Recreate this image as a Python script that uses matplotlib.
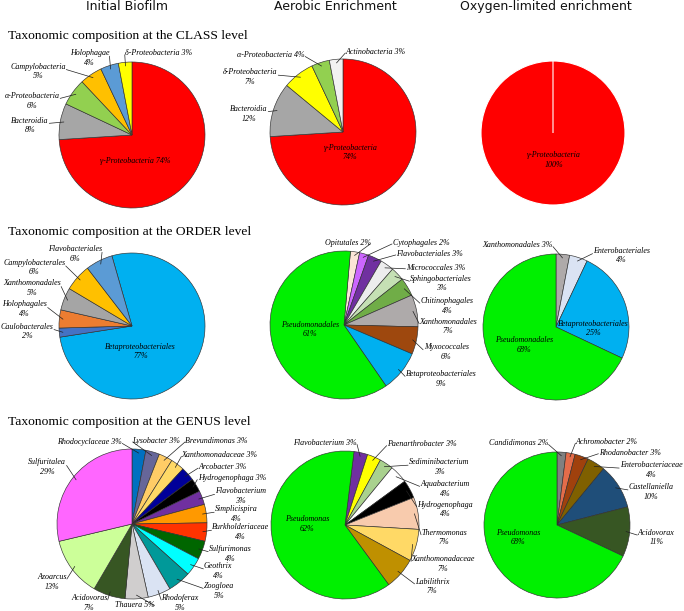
import matplotlib
matplotlib.use("Agg")
import matplotlib.pyplot as plt
import numpy as np

W, H = 684, 611
fig = plt.figure(figsize=(W / 100, H / 100), dpi=100)

SERIF = ["Liberation Serif", "DejaVu Serif"]
LABEL_FS = 5.8

# ---------------- data ----------------
column_titles = ["Initial Biofilm", "Aerobic Enrichment", "Oxygen-limited enrichment"]
row_titles = ["Taxonomic composition at the CLASS level",
              "Taxonomic composition at the ORDER level",
              "Taxonomic composition at the GENUS level"]

class_initial_names = ["γ-Proteobacteria", "Bacteroidia", "α-Proteobacteria",
                       "Campylobacteria", "Holophagae", "δ-Proteobacteria"]
class_initial_values = [74, 8, 6, 5, 4, 3]

class_aerobic_names = ["γ-Proteobacteria", "Bacteroidia", "δ-Proteobacteria",
                       "α-Proteobacteria", "Actinobacteria"]
class_aerobic_values = [74, 12, 7, 4, 3]

class_oxygen_names = ["γ-Proteobacteria", ""]
class_oxygen_values = [100, 0]

order_initial_names = ["Betaproteobacteriales", "Caulobacterales", "Holophagales",
                       "Xanthomonadales", "Campylobacterales", "Flavobacteriales"]
order_initial_values = [77, 2, 4, 5, 6, 6]

order_aerobic_names = ["Opitutales", "Cytophagales", "Flavobacteriales", "Micrococcales",
                       "Sphingobacteriales", "Chitinophagales", "Xanthomonadales",
                       "Myxococcales", "Betaproteobacteriales", "Pseudomonadales"]
order_aerobic_values = [2, 2, 3, 3, 3, 4, 7, 6, 9, 61]

order_oxygen_names = ["Xanthomonadales", "Enterobacteriales", "Betaproteobacteriales",
                      "Pseudomonadales"]
order_oxygen_values = [3, 4, 25, 68]

genus_initial_names = ["Rhodocyclaceae", "Lysobacter", "Brevundimonas", "Xanthomonadaceae",
                       "Arcobacter", "Hydrogenophaga", "Flavobacterium", "Simplicispira",
                       "Burkholderiaceae", "Sulfurimonas", "Geothrix", "Zoogloea",
                       "Rhodoferax", "Thauera", "Acidovoras", "Azoarcus", "Sulfuritalea"]
genus_initial_values = [3, 3, 3, 3, 3, 3, 3, 4, 4, 4, 4, 5, 5, 5, 7, 13, 29]

genus_aerobic_names = ["Flavobacterium", "Paenarthrobacter", "Sediminibacterium",
                       "Aquabacterium", "Hydrogenophaga", "Thermomonas",
                       "Xanthomonadaceae", "Labilithrix", "Pseudomonas"]
genus_aerobic_values = [3, 3, 3, 4, 4, 7, 7, 7, 62]

genus_oxygen_names = ["Candidimonas", "Achromobacter", "Rhodanobacter",
                      "Enterobacteriaceae", "Castellaniella", "Acidovorax", "Pseudomonas"]
genus_oxygen_values = [2, 2, 3, 4, 10, 11, 68]

# ---------------- styles ----------------
GREEN = "#00F000"
class_initial_colors = ["#FF0000", "#A6A6A6", "#92D050", "#FFC000", "#5B9BD5", "#FFFF00"]
class_aerobic_colors = ["#FF0000", "#A6A6A6", "#FFFF00", "#92D050", "#F2F2F2"]
class_oxygen_colors = ["#FF0000", "#FF0000"]
order_initial_colors = ["#00B0F0", "#4472C4", "#ED7D31", "#A5A5A5", "#FFC000", "#5B9BD5"]
order_aerobic_colors = ["#FBE5D6", "#CC66FF", "#7030A0", "#EDEDED", "#C5E0B4", "#70AD47",
                        "#AEAAAA", "#9E480E", "#00B0F0", GREEN]
order_oxygen_colors = ["#AEAAAA", "#DAE3F3", "#00B0F0", GREEN]
genus_initial_colors = ["#0070C0", "#666699", "#FFCC66", "#FFD966", "#000099", "#000000",
                        "#7030A0", "#FF9900", "#FF3300", "#006600", "#00FFFF", "#009999",
                        "#DAE3F3", "#D0CECE", "#375623", "#CCFF99", "#FF66FF"]
genus_aerobic_colors = ["#7030A0", "#FFFF00", "#A9D18E", "#FFFFFF", "#000000", "#F8CBAD",
                        "#FFD966", "#BF9000", GREEN]
genus_oxygen_colors = ["#808080", "#E46C4A", "#A0410D", "#7F6000", "#1F4E79", "#375623", GREEN]

# ---------------- layout (label offsets in pie-radius units) ----------------
# (dx, dy, two_lines, leader)
class_initial_layout = [(0.05, -0.36, False, False), (-1.40, 0.13, True, True),
                        (-1.37, 0.47, True, True), (-1.29, 0.87, True, True),
                        (-0.58, 1.06, True, True), (0.36, 1.12, False, True)]
class_aerobic_layout = [(0.10, -0.28, True, False), (-1.29, 0.25, True, True),
                        (-1.27, 0.75, True, True), (-0.99, 1.05, False, True),
                        (0.45, 1.10, False, True)]
class_oxygen_layout = [(0.01, -0.37, True, False), None]
order_initial_layout = [(0.12, -0.35, True, False), (-1.44, -0.075, True, True),
                        (-1.47, 0.23, True, True), (-1.37, 0.52, True, True),
                        (-1.34, 0.80, True, True), (-0.78, 0.99, True, True)]
order_aerobic_layout = [(0.05, 1.11, False, True), (1.04, 1.11, False, True),
                        (1.16, 0.96, False, True), (1.24, 0.77, False, True),
                        (1.31, 0.56, True, True), (1.39, 0.26, True, True),
                        (1.41, -0.02, True, True), (1.38, -0.37, True, True),
                        (1.31, -0.73, True, True), (-0.46, -0.06, True, False)]
order_oxygen_layout = [(-0.53, 1.12, False, True), (0.90, 0.98, True, True),
                       (0.51, -0.02, True, False), (-0.44, -0.25, True, False)]
genus_initial_layout = [(-0.57, 1.09, False, True), (0.32, 1.11, False, True),
                        (1.13, 1.11, False, True), (1.17, 0.92, False, True),
                        (1.21, 0.76, False, True), (1.33, 0.61, False, True),
                        (1.45, 0.37, True, True), (1.39, 0.13, True, True),
                        (1.45, -0.11, True, True), (1.31, -0.40, True, True),
                        (1.15, -0.63, True, True), (1.16, -0.89, True, True),
                        (0.64, -1.05, True, True), (0.04, -1.08, False, True),
                        (-0.57, -1.05, True, True), (-1.07, -0.77, True, True),
                        (-1.13, 0.76, True, True)]
genus_aerobic_layout = [(-0.27, 1.11, False, True), (1.04, 1.09, False, True),
                        (1.27, 0.78, True, True), (1.35, 0.49, True, True),
                        (1.35, 0.21, True, True), (1.34, -0.17, True, True),
                        (1.32, -0.53, True, True), (1.18, -0.83, True, True),
                        (-0.51, 0.01, True, False)]
genus_oxygen_layout = [(-0.53, 1.12, False, True), (0.68, 1.14, False, True),
                       (1.00, 0.99, False, True), (1.29, 0.75, True, True),
                       (1.29, 0.45, True, True), (1.36, -0.17, True, True),
                       (-0.53, -0.17, True, False)]


def draw_pie(cx, cy, r, names, values, colors, start, layout, edge="#303030", elw=0.45):
    m = 1.08
    ax = fig.add_axes([(cx - m * r) / W, 1 - (cy + m * r) / H, 2 * m * r / W, 2 * m * r / H])
    wedges, _ = ax.pie(values, colors=colors, startangle=start, counterclock=False,
                       radius=1, wedgeprops=dict(edgecolor=edge, linewidth=elw))
    ax.set_xlim(-m, m)
    ax.set_ylim(-m, m)
    ax.set_aspect("equal")
    ax.axis("off")
    for w, name, val, lay in zip(wedges, names, values, layout):
        if lay is None:
            continue
        tx, ty, two, leader = lay
        txt = f"{name}\n{val}%" if two else f"{name} {val}%"
        kw = dict(ha="center", va="center", fontsize=LABEL_FS, family=SERIF,
                  style="italic", linespacing=1.3, color="black")
        if leader:
            mid = np.deg2rad((w.theta1 + w.theta2) / 2)
            px, py = 0.95 * np.cos(mid), 0.95 * np.sin(mid)
            rx = 1.0 if tx < px else 0.0
            ry = 0.62 if two else 0.4
            ax.annotate(txt, xy=(px, py), xytext=(tx, ty), annotation_clip=False,
                        arrowprops=dict(arrowstyle="-", color="#202020", lw=0.5,
                                        shrinkA=0.5, shrinkB=0, patchA=None,
                                        relpos=(rx, ry)), **kw)
        else:
            ax.text(tx, ty, txt, clip_on=False, **kw)
    return ax


# Column headers
for x, t in zip([127, 335, 546], column_titles):
    fig.text(x / W, 1 - 10 / H, t, ha="center", va="baseline", fontsize=9,
             family="DejaVu Sans", color="#111111")
# Row titles
for y, t in zip([39, 235, 425.5], row_titles):
    fig.text(8 / W, 1 - y / H, t, ha="left", va="baseline", fontsize=9.7,
             family=SERIF, color="black")

draw_pie(132, 135, 73, class_initial_names, class_initial_values, class_initial_colors, 90, class_initial_layout)
draw_pie(343, 132, 73, class_aerobic_names, class_aerobic_values, class_aerobic_colors, 90, class_aerobic_layout)
draw_pie(553, 133, 72, class_oxygen_names, class_oxygen_values, class_oxygen_colors, 90, class_oxygen_layout,
         edge="white", elw=0.8)

draw_pie(132, 326, 73, order_initial_names, order_initial_values, order_initial_colors, 106, order_initial_layout)
draw_pie(344, 325, 74, order_aerobic_names, order_aerobic_values, order_aerobic_colors, 85, order_aerobic_layout)
draw_pie(556, 327, 73, order_oxygen_names, order_oxygen_values, order_oxygen_colors, 90, order_oxygen_layout)

draw_pie(132, 524, 75, genus_initial_names, genus_initial_values, genus_initial_colors, 90, genus_initial_layout)
draw_pie(345, 525, 74, genus_aerobic_names, genus_aerobic_values, genus_aerobic_colors, 83, genus_aerobic_layout)
draw_pie(557, 525, 73, genus_oxygen_names, genus_oxygen_values, genus_oxygen_colors, 90, genus_oxygen_layout)

fig.savefig("out.png", dpi=100)
